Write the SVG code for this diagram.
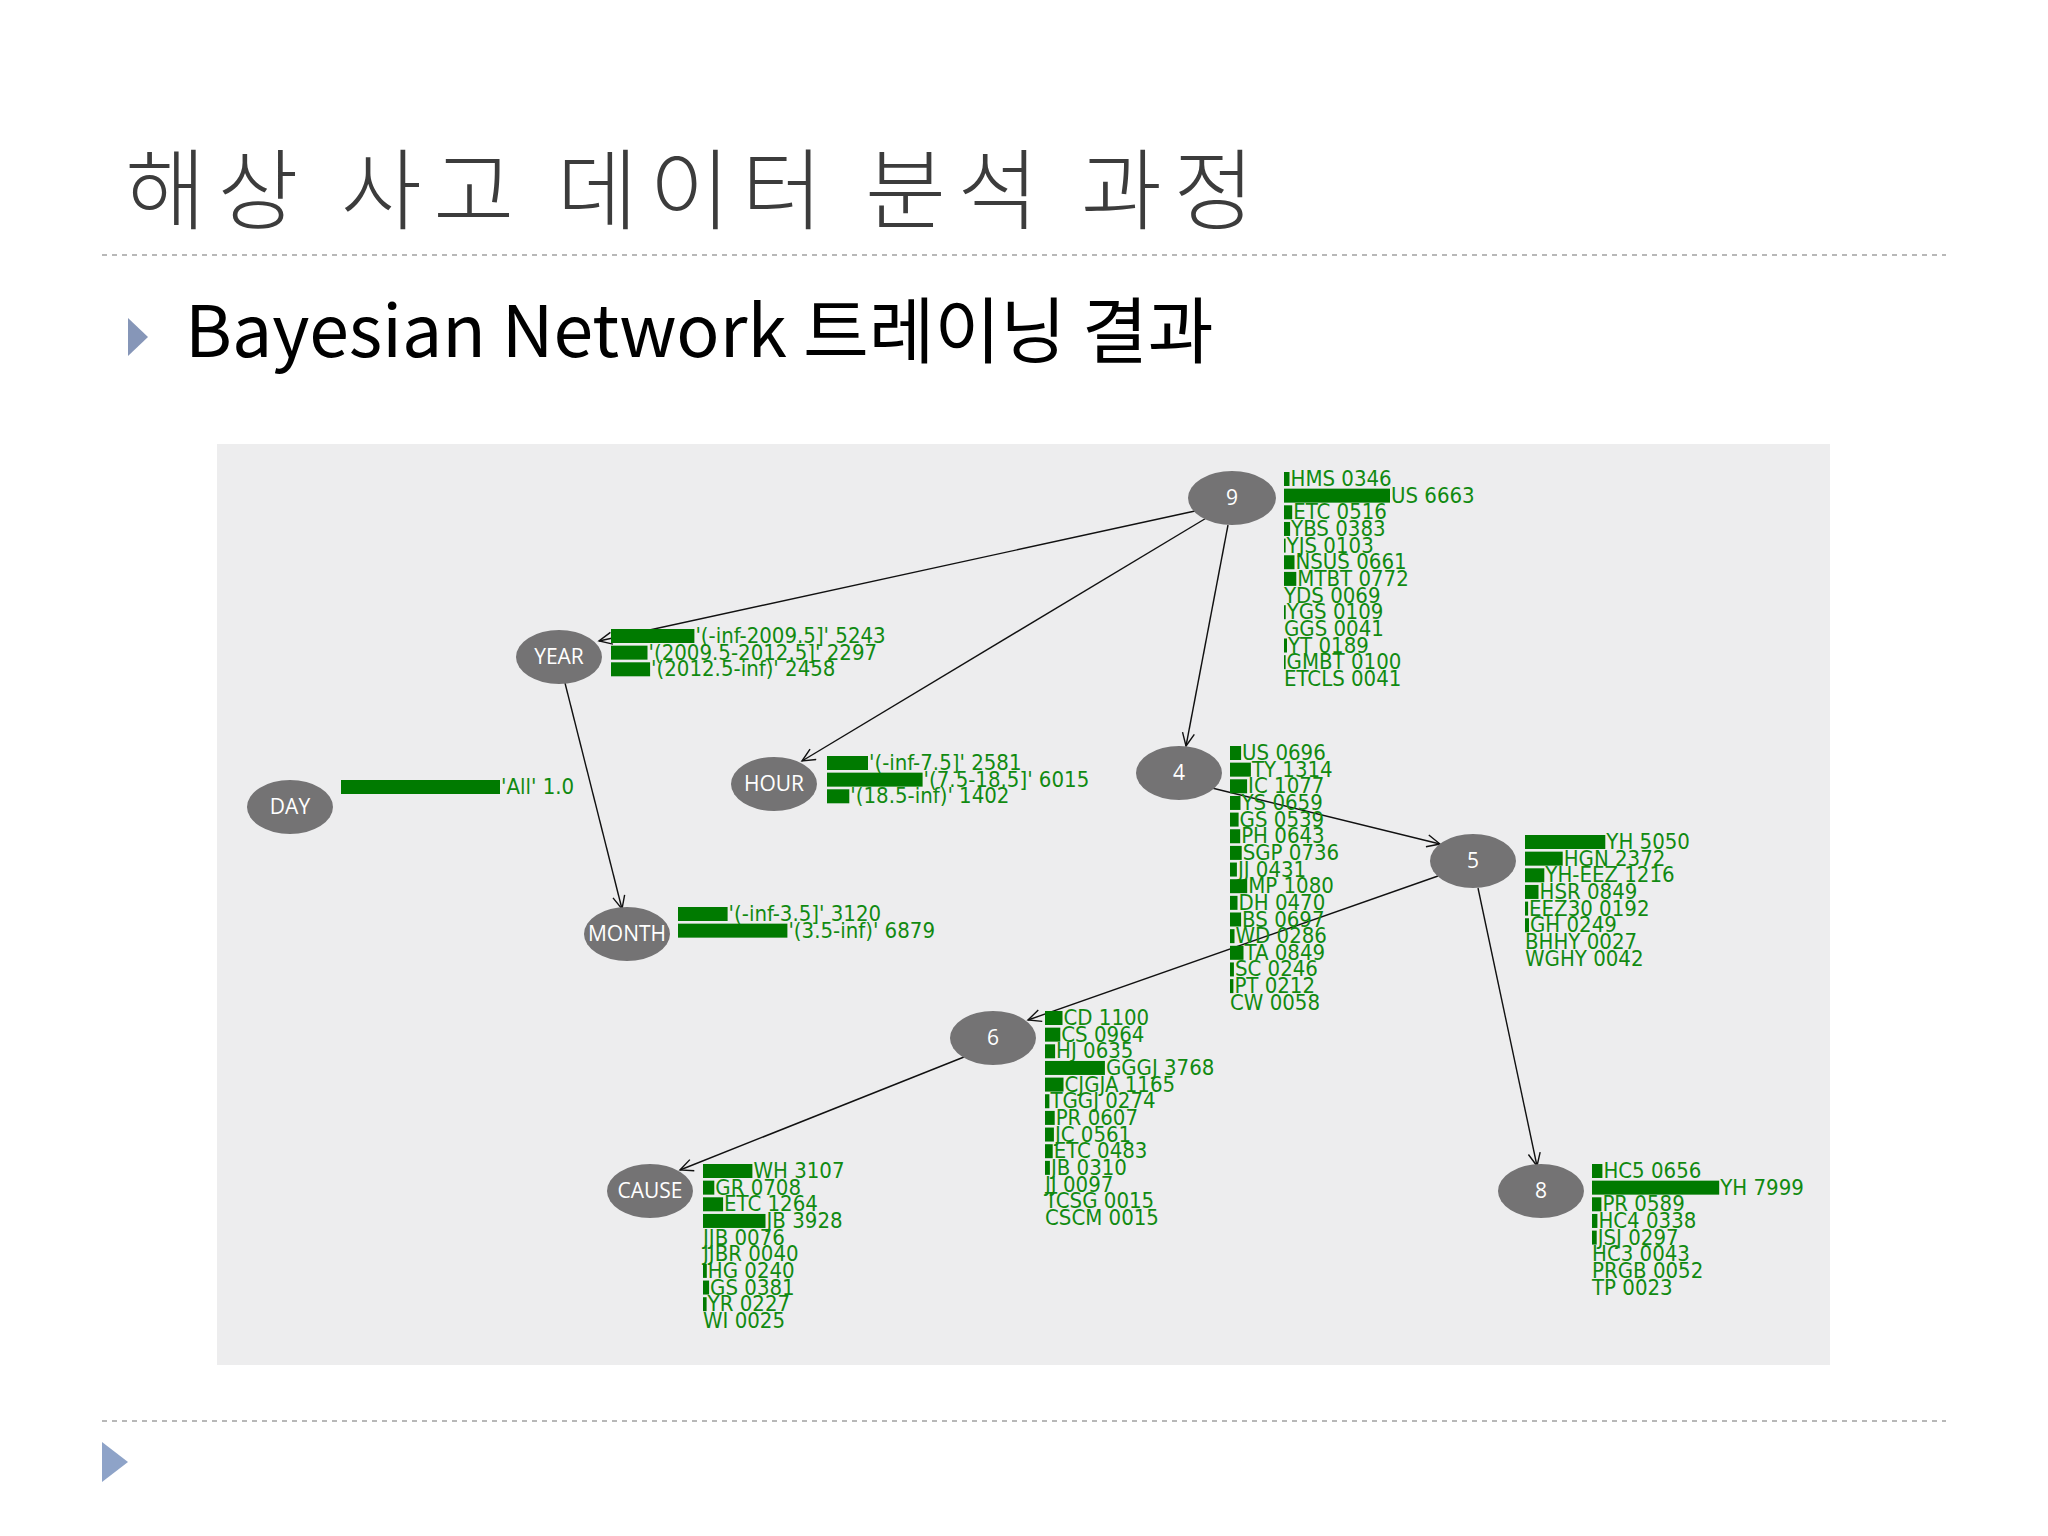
<svg xmlns="http://www.w3.org/2000/svg" width="2048" height="1536" viewBox="0 0 2048 1536">
<defs>
<style>
.nd{fill:#747374}
.nl{fill:#fff;font-family:"Open Sans","DejaVu Sans",sans-serif;font-size:21px;text-anchor:middle}
.ls text{fill:#118a11;font-family:"DejaVu Sans Condensed","DejaVu Sans",sans-serif;font-size:22px;font-stretch:condensed}
.ls rect{fill:#007a00;transform:translateY(-1px);height:14px}
.e{stroke:#111;stroke-width:1.4;fill:none;marker-end:url(#ah)}
.dash{stroke:#b8b8b8;stroke-width:2;stroke-dasharray:5 5}
</style>
<marker id="ah" markerUnits="userSpaceOnUse" markerWidth="20" markerHeight="20" refX="14" refY="7" orient="auto"><path d="M1,1 L14,7 L1,13" fill="none" stroke="#111" stroke-width="1.4"/></marker>
</defs>
<rect width="2048" height="1536" fill="#fff"/>
<text x="125" y="222" font-family="'Noto Sans CJK KR',sans-serif" font-size="88" font-weight="300" fill="#3c3c3c" letter-spacing="11.5">해상 사고 데이터 분석 과정</text>
<line x1="102" y1="255" x2="1946" y2="255" class="dash"/>
<path d="M128,318 L148,337 L128,356 Z" fill="#8696b8"/>
<text x="185" y="357" font-family="'Noto Sans CJK KR',sans-serif" font-size="71.5" fill="#000">Bayesian Network 트레이닝 결과</text>
<line x1="102" y1="1421" x2="1946" y2="1421" class="dash"/>
<path d="M102,1442 L128,1462 L102,1482 Z" fill="#8ea3c8"/>
<rect x="217" y="444" width="1613" height="921" fill="#ededee"/>
<g id="connectors">
<line class="e" x1="1195" y1="511" x2="599" y2="641"/>
<line class="e" x1="1208" y1="517" x2="802" y2="761"/>
<line class="e" x1="1228" y1="525" x2="1186" y2="746"/>
<line class="e" x1="565" y1="683" x2="622" y2="909"/>
<line class="e" x1="1212" y1="788" x2="1440" y2="844"/>
<line class="e" x1="1438" y1="876" x2="1028" y2="1020"/>
<line class="e" x1="1478" y1="888" x2="1537" y2="1166"/>
<line class="e" x1="964" y1="1057" x2="680" y2="1170"/>
</g>
<g id="n9"><ellipse class="nd" cx="1232" cy="498" rx="44" ry="27"/><text class="nl" x="1232" y="505">9</text>
<g class="ls" transform="translate(1284,486)">
<rect x="0" y="-13" width="5.5" height="12"/><text x="6.5" y="0">HMS 0346</text>
<rect x="0" y="3.65" width="106" height="12"/><text x="107" y="16.65">US 6663</text>
<rect x="0" y="20.3" width="8.2" height="12"/><text x="9.2" y="33.3">ETC 0516</text>
<rect x="0" y="36.95" width="6.1" height="12"/><text x="7.1" y="49.95">YBS 0383</text>
<rect x="0" y="53.6" width="1.6" height="12"/><text x="2.6" y="66.6">YJS 0103</text>
<rect x="0" y="70.25" width="10.5" height="12"/><text x="11.5" y="83.25">NSUS 0661</text>
<rect x="0" y="86.9" width="12.3" height="12"/><text x="13.3" y="99.9">MTBT 0772</text>
<text x="0" y="116.55">YDS 0069</text>
<rect x="0" y="120.2" width="1.7" height="12"/><text x="2.7" y="133.2">YGS 0109</text>
<text x="0" y="149.85">GGS 0041</text>
<rect x="0" y="153.5" width="3" height="12"/><text x="4" y="166.5">YT 0189</text>
<rect x="0" y="170.15" width="1.6" height="12"/><text x="2.6" y="183.15">GMBT 0100</text>
<text x="0" y="199.8">ETCLS 0041</text>
</g></g>
<g id="nYEAR"><ellipse class="nd" cx="559" cy="657" rx="43" ry="27"/><text class="nl" x="559" y="664">YEAR</text>
<g class="ls" transform="translate(611,643)">
<rect x="0" y="-13" width="83.4" height="12"/><text x="84.4" y="0">'(-inf-2009.5]' 5243</text>
<rect x="0" y="3.65" width="36.5" height="12"/><text x="37.5" y="16.65">'(2009.5-2012.5]' 2297</text>
<rect x="0" y="20.3" width="39.1" height="12"/><text x="40.1" y="33.3">'(2012.5-inf)' 2458</text>
</g></g>
<g id="nDAY"><ellipse class="nd" cx="290" cy="807" rx="43" ry="27"/><text class="nl" x="290" y="814">DAY</text>
<g class="ls" transform="translate(341,794)">
<rect x="0" y="-13" width="159" height="12"/><text x="160" y="0">'All' 1.0</text>
</g></g>
<g id="nHOUR"><ellipse class="nd" cx="774" cy="784" rx="43" ry="27"/><text class="nl" x="774" y="791">HOUR</text>
<g class="ls" transform="translate(827,770)">
<rect x="0" y="-13" width="41" height="12"/><text x="42" y="0">'(-inf-7.5]' 2581</text>
<rect x="0" y="3.65" width="95.6" height="12"/><text x="96.6" y="16.65">'(7.5-18.5]' 6015</text>
<rect x="0" y="20.3" width="22.3" height="12"/><text x="23.3" y="33.3">'(18.5-inf)' 1402</text>
</g></g>
<g id="nMONTH"><ellipse class="nd" cx="627" cy="934" rx="43" ry="27"/><text class="nl" x="627" y="941">MONTH</text>
<g class="ls" transform="translate(678,921)">
<rect x="0" y="-13" width="49.6" height="12"/><text x="50.6" y="0">'(-inf-3.5]' 3120</text>
<rect x="0" y="3.65" width="109.4" height="12"/><text x="110.4" y="16.65">'(3.5-inf)' 6879</text>
</g></g>
<g id="n4"><ellipse class="nd" cx="1179" cy="773" rx="43" ry="27"/><text class="nl" x="1179" y="780">4</text>
<g class="ls" transform="translate(1230,760)">
<rect x="0" y="-13" width="11.1" height="12"/><text x="12.1" y="0">US 0696</text>
<rect x="0" y="3.65" width="20.9" height="12"/><text x="21.9" y="16.65">TY 1314</text>
<rect x="0" y="20.3" width="17.1" height="12"/><text x="18.1" y="33.3">IC 1077</text>
<rect x="0" y="36.95" width="10.5" height="12"/><text x="11.5" y="49.95">YS 0659</text>
<rect x="0" y="53.6" width="8.6" height="12"/><text x="9.6" y="66.6">GS 0539</text>
<rect x="0" y="70.25" width="10.2" height="12"/><text x="11.2" y="83.25">PH 0643</text>
<rect x="0" y="86.9" width="11.7" height="12"/><text x="12.7" y="99.9">SGP 0736</text>
<rect x="0" y="103.55" width="6.9" height="12"/><text x="7.9" y="116.55">JJ 0431</text>
<rect x="0" y="120.2" width="17.2" height="12"/><text x="18.2" y="133.2">MP 1080</text>
<rect x="0" y="136.85" width="7.5" height="12"/><text x="8.5" y="149.85">DH 0470</text>
<rect x="0" y="153.5" width="11.1" height="12"/><text x="12.1" y="166.5">BS 0697</text>
<rect x="0" y="170.15" width="4.5" height="12"/><text x="5.5" y="183.15">WD 0286</text>
<rect x="0" y="186.8" width="13.5" height="12"/><text x="14.5" y="199.8">TA 0849</text>
<rect x="0" y="203.45" width="3.9" height="12"/><text x="4.9" y="216.45">SC 0246</text>
<rect x="0" y="220.1" width="3.4" height="12"/><text x="4.4" y="233.1">PT 0212</text>
<text x="0" y="249.75">CW 0058</text>
</g></g>
<g id="n5"><ellipse class="nd" cx="1473" cy="861" rx="43" ry="27"/><text class="nl" x="1473" y="868">5</text>
<g class="ls" transform="translate(1525,849)">
<rect x="0" y="-13" width="80.3" height="12"/><text x="81.3" y="0">YH 5050</text>
<rect x="0" y="3.65" width="37.7" height="12"/><text x="38.7" y="16.65">HGN 2372</text>
<rect x="0" y="20.3" width="19.3" height="12"/><text x="20.3" y="33.3">YH-EEZ 1216</text>
<rect x="0" y="36.95" width="13.5" height="12"/><text x="14.5" y="49.95">HSR 0849</text>
<rect x="0" y="53.6" width="3.1" height="12"/><text x="4.1" y="66.6">EEZ30 0192</text>
<rect x="0" y="70.25" width="4" height="12"/><text x="5" y="83.25">GH 0249</text>
<text x="0" y="99.9">BHHY 0027</text>
<text x="0" y="116.55">WGHY 0042</text>
</g></g>
<g id="n6"><ellipse class="nd" cx="993" cy="1038" rx="43" ry="27"/><text class="nl" x="993" y="1045">6</text>
<g class="ls" transform="translate(1045,1025)">
<rect x="0" y="-13" width="17.5" height="12"/><text x="18.5" y="0">CD 1100</text>
<rect x="0" y="3.65" width="15.3" height="12"/><text x="16.3" y="16.65">CS 0964</text>
<rect x="0" y="20.3" width="10.1" height="12"/><text x="11.1" y="33.3">HJ 0635</text>
<rect x="0" y="36.95" width="59.9" height="12"/><text x="60.9" y="49.95">GGGJ 3768</text>
<rect x="0" y="53.6" width="18.5" height="12"/><text x="19.5" y="66.6">CJGJA 1165</text>
<rect x="0" y="70.25" width="4.4" height="12"/><text x="5.4" y="83.25">TGGJ 0274</text>
<rect x="0" y="86.9" width="9.7" height="12"/><text x="10.7" y="99.9">PR 0607</text>
<rect x="0" y="103.55" width="8.9" height="12"/><text x="9.9" y="116.55">JC 0561</text>
<rect x="0" y="120.2" width="7.7" height="12"/><text x="8.7" y="133.2">ETC 0483</text>
<rect x="0" y="136.85" width="4.9" height="12"/><text x="5.9" y="149.85">JB 0310</text>
<text x="0" y="166.5">JJ 0097</text>
<text x="0" y="183.15">TCSG 0015</text>
<text x="0" y="199.8">CSCM 0015</text>
</g></g>
<g id="nCAUSE"><ellipse class="nd" cx="650" cy="1191" rx="43" ry="27"/><text class="nl" x="650" y="1198">CAUSE</text>
<g class="ls" transform="translate(703,1178)">
<rect x="0" y="-13" width="49.4" height="12"/><text x="50.4" y="0">WH 3107</text>
<rect x="0" y="3.65" width="11.3" height="12"/><text x="12.3" y="16.65">GR 0708</text>
<rect x="0" y="20.3" width="20.1" height="12"/><text x="21.1" y="33.3">ETC 1264</text>
<rect x="0" y="36.95" width="62.5" height="12"/><text x="63.5" y="49.95">JB 3928</text>
<text x="0" y="66.6">JJB 0076</text>
<text x="0" y="83.25">JJBR 0040</text>
<rect x="0" y="86.9" width="3.8" height="12"/><text x="4.8" y="99.9">HG 0240</text>
<rect x="0" y="103.55" width="6.1" height="12"/><text x="7.1" y="116.55">GS 0381</text>
<rect x="0" y="120.2" width="3.6" height="12"/><text x="4.6" y="133.2">YR 0227</text>
<text x="0" y="149.85">WI 0025</text>
</g></g>
<g id="n8"><ellipse class="nd" cx="1541" cy="1191" rx="43" ry="27"/><text class="nl" x="1541" y="1198">8</text>
<g class="ls" transform="translate(1592,1178)">
<rect x="0" y="-13" width="10.4" height="12"/><text x="11.4" y="0">HC5 0656</text>
<rect x="0" y="3.65" width="127.2" height="12"/><text x="128.2" y="16.65">YH 7999</text>
<rect x="0" y="20.3" width="9.4" height="12"/><text x="10.4" y="33.3">PR 0589</text>
<rect x="0" y="36.95" width="5.4" height="12"/><text x="6.4" y="49.95">HC4 0338</text>
<rect x="0" y="53.6" width="4.7" height="12"/><text x="5.7" y="66.6">JSJ 0297</text>
<text x="0" y="83.25">HC3 0043</text>
<text x="0" y="99.9">PRGB 0052</text>
<text x="0" y="116.55">TP 0023</text>
</g></g>
</svg>
